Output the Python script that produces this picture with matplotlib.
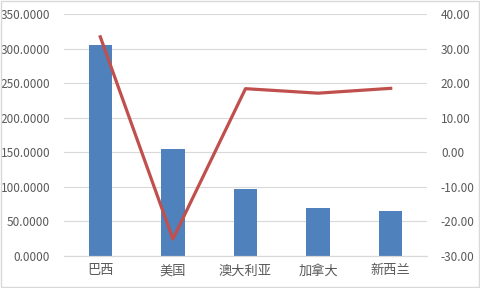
import matplotlib
matplotlib.use("Agg")
import matplotlib.pyplot as plt
from matplotlib.patches import Rectangle

plt.rcParams['font.family'] = ['Noto Sans CJK SC', 'DejaVu Sans']

countries = ['巴西', '美国', '澳大利亚', '加拿大', '新西兰']
bar_values = [305.2, 154.8, 96.9, 69.4, 65.1]
line_values = [33.4, -25.1, 18.4, 17.1, 18.5]

fig = plt.figure(figsize=(4.8, 2.88), dpi=100)
ax = fig.add_axes([0.1333, 0.1111, 0.7563, 0.8403])
ax2 = ax.twinx()

x = range(len(countries))
ax.bar(x, bar_values, width=0.32, color='#4F81BD', zorder=2)
ax2.plot(x, line_values, color='#C0504D', linewidth=2.3, zorder=3)

ax.set_xlim(-0.5, len(countries) - 0.5)
ax.set_ylim(0, 350)
ax.set_yticks(range(0, 351, 50))
ax.set_yticklabels([f'{v:.4f}' for v in range(0, 351, 50)])
ax2.set_ylim(-30, 40)
ax2.set_yticks(range(-30, 41, 10))
ax2.set_yticklabels([f'{v:.2f}' for v in range(-30, 41, 10)])

ax.set_xticks(list(x))
ax.set_xticklabels(countries)

ax.grid(axis='y', color='#D9D9D9', linewidth=0.8, zorder=0)
ax.set_axisbelow(True)

for a in (ax, ax2):
    for s in ('top', 'left', 'right'):
        a.spines[s].set_visible(False)
    a.spines['bottom'].set_color('#D9D9D9')
    a.tick_params(length=0, labelsize=8.5, colors='#595959')
ax.tick_params(axis='y', pad=10)
ax2.tick_params(axis='y', pad=10)
ax.tick_params(axis='x', labelsize=9.5, pad=6)

fig.patches.append(Rectangle((0.002, 0.003), 0.995, 0.994, transform=fig.transFigure,
                             fill=False, edgecolor='#D9D9D9', linewidth=1))

fig.savefig('out.png', dpi=100)
